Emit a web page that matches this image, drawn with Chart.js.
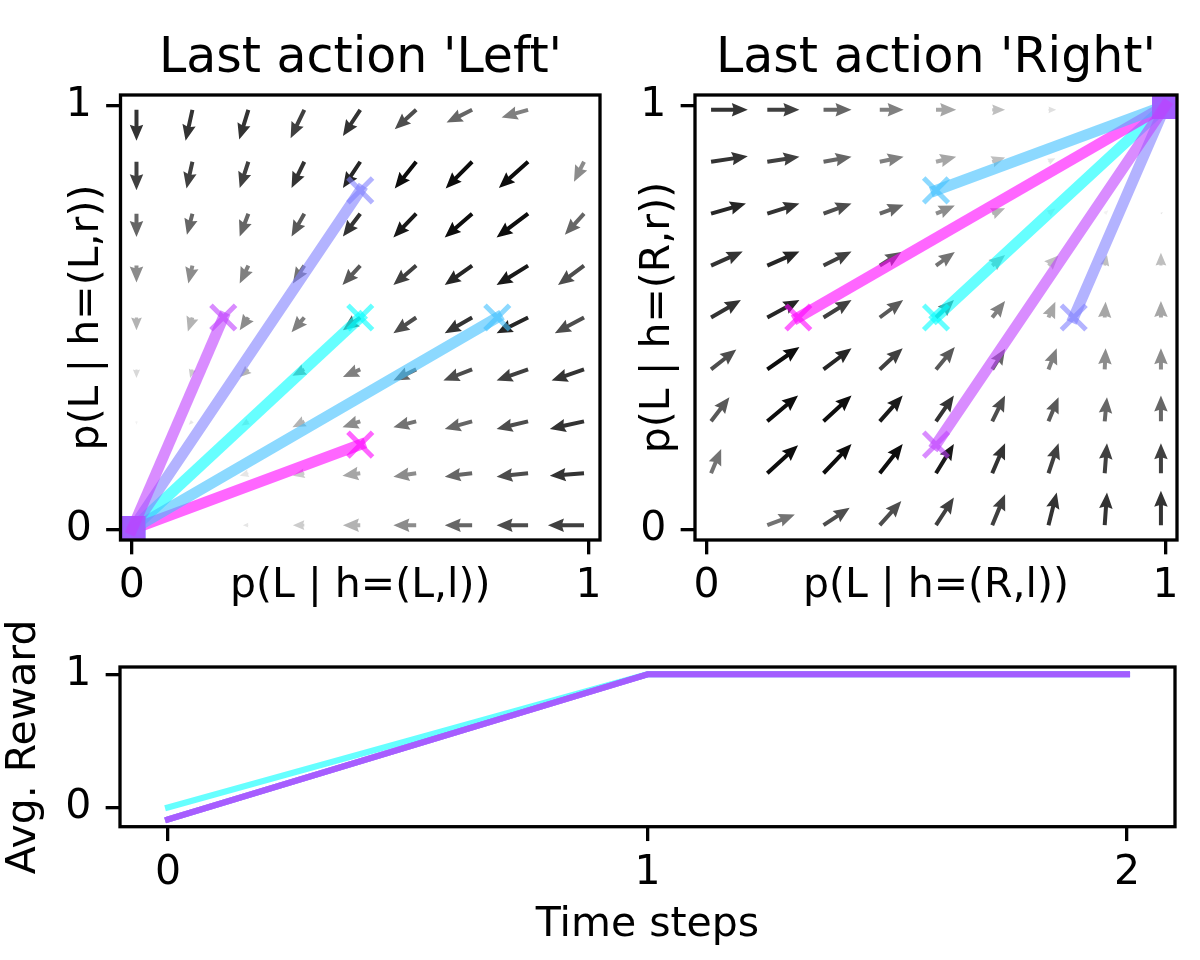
<!DOCTYPE html>
<html>
<head>
<meta charset="utf-8">
<script src="https://cdn.jsdelivr.net/npm/chart.js@4.4.1/dist/chart.umd.min.js"></script>
<style>
  html, body { margin: 0; padding: 0; background: #fff; overflow: hidden; }
  #wrap { position: relative; width: 1200px; height: 960px; overflow: hidden; }
  canvas { position: absolute; }
</style>
</head>
<body>
<div id="wrap">
  <canvas id="chartLeft" width="721" height="640" style="left:0;top:0"></canvas>
  <canvas id="chartRight" width="632" height="640" style="left:620px;top:0"></canvas>
  <canvas id="chartReward" width="1200" height="360" style="left:0;top:600px"></canvas>
</div>
<script>
// grid positions of the vector field (x and y), both panels
var gridPos = [0.01, 0.1325, 0.255, 0.3775, 0.5, 0.6225, 0.745, 0.8675, 0.99];

// 'Left' panel field, rows from top (y=0.99) down to y=0.01
var leftU = [
    [0, -0.015, -0.02, -0.03, -0.038, -0.047, -0.056, -0.058, 0],
    [0, -0.013, -0.019, -0.028, -0.038, -0.047, -0.058, -0.064, -0.022],
    [0, -0.012, -0.019, -0.028, -0.038, -0.05, -0.06, -0.069, -0.042],
    [0, -0.009, -0.019, -0.025, -0.039, -0.05, -0.06, -0.069, -0.057],
    [0, -0.01, -0.019, -0.028, -0.038, -0.05, -0.06, -0.069, -0.064],
    [0, -0.005, -0.019, -0.026, -0.038, -0.05, -0.063, -0.069, -0.071],
    [0, -0.008, -0.015, -0.026, -0.039, -0.05, -0.06, -0.069, -0.075],
    [0, 0, -0.019, -0.025, -0.039, -0.05, -0.06, -0.069, -0.075],
    [0, 0, -0.012, -0.025, -0.038, -0.05, -0.06, -0.069, -0.079]
];
var leftV = [
    [-0.073, -0.073, -0.07, -0.067, -0.062, -0.046, -0.03, -0.018, 0],
    [-0.067, -0.063, -0.062, -0.062, -0.062, -0.063, -0.063, -0.062, -0.047],
    [-0.055, -0.05, -0.054, -0.054, -0.054, -0.056, -0.056, -0.056, -0.05],
    [-0.04, -0.042, -0.042, -0.042, -0.046, -0.046, -0.046, -0.046, -0.046],
    [-0.03, -0.033, -0.03, -0.035, -0.03, -0.037, -0.037, -0.037, -0.037],
    [-0.02, -0.02, -0.018, -0.015, -0.018, -0.026, -0.026, -0.026, -0.026],
    [-0.008, -0.008, -0.01, -0.014, -0.014, -0.014, -0.018, -0.018, -0.018],
    [0, 0, -0.006, -0.006, -0.006, -0.008, -0.008, -0.008, -0.006],
    [0, 0, 0, 0, 0, 0, 0, 0, 0]
];
var leftShade = [
    [0.8, 0.8, 0.8, 0.75, 0.8, 0.7, 0.6, 0.5, 0],
    [0.75, 0.75, 0.75, 0.8, 0.85, 0.95, 0.95, 0.95, 0.45],
    [0.6, 0.6, 0.6, 0.65, 0.8, 0.9, 0.95, 0.95, 0.6],
    [0.45, 0.45, 0.5, 0.55, 0.65, 0.75, 0.85, 0.9, 0.7],
    [0.3, 0.3, 0.45, 0.5, 0.65, 0.7, 0.8, 0.85, 0.7],
    [0.15, 0.2, 0.3, 0.45, 0.5, 0.6, 0.7, 0.75, 0.8],
    [0.05, 0.1, 0.15, 0.3, 0.45, 0.55, 0.6, 0.7, 0.8],
    [0, 0, 0.1, 0.2, 0.35, 0.45, 0.6, 0.7, 0.8],
    [0, 0, 0.1, 0.2, 0.3, 0.45, 0.6, 0.7, 0.75]
];

// 'Right' panel field
var rightU = [
    [0.08, 0.07, 0.061, 0.052, 0.044, 0.028, 0.017, 0, 0],
    [0.08, 0.07, 0.061, 0.052, 0.044, 0.028, 0.015, 0, 0],
    [0.076, 0.07, 0.061, 0.052, 0.041, 0.028, 0.015, 0.008, 0.004],
    [0.069, 0.07, 0.061, 0.047, 0.041, 0.028, 0.022, 0.005, 0],
    [0.065, 0.07, 0.061, 0.051, 0.039, 0.028, 0.015, 0.002, 0],
    [0.055, 0.07, 0.061, 0.05, 0.041, 0.028, 0.018, 0.002, 0],
    [0.04, 0.067, 0.061, 0.05, 0.039, 0.028, 0.022, 0.005, 0],
    [0.022, 0.067, 0.061, 0.05, 0.039, 0.028, 0.022, 0.005, 0],
    [0, 0.06, 0.057, 0.047, 0.039, 0.028, 0.018, 0.005, 0]
];
var rightV = [
    [0, 0, 0, 0, 0, 0, 0, 0, 0],
    [0.013, 0.012, 0.012, 0.012, 0.012, 0.01, 0.008, 0, 0],
    [0.024, 0.024, 0.024, 0.021, 0.019, 0.013, 0.012, 0.008, 0.004],
    [0.033, 0.033, 0.033, 0.032, 0.032, 0.025, 0.024, 0.025, 0.03],
    [0.041, 0.041, 0.041, 0.041, 0.041, 0.039, 0.037, 0.037, 0.039],
    [0.047, 0.053, 0.05, 0.05, 0.053, 0.049, 0.05, 0.05, 0.05],
    [0.057, 0.061, 0.061, 0.061, 0.061, 0.061, 0.057, 0.057, 0.061],
    [0.057, 0.066, 0.069, 0.069, 0.069, 0.071, 0.071, 0.071, 0.071],
    [0, 0.025, 0.041, 0.057, 0.065, 0.073, 0.077, 0.077, 0.081]
];
var rightShade = [
    [0.8, 0.75, 0.6, 0.5, 0.35, 0.25, 0.12, 0, 0],
    [0.8, 0.75, 0.6, 0.5, 0.35, 0.25, 0.1, 0, 0],
    [0.85, 0.8, 0.7, 0.6, 0.45, 0.3, 0.1, 0.05, 0.1],
    [0.8, 0.85, 0.75, 0.65, 0.55, 0.35, 0.25, 0.25, 0.25],
    [0.8, 0.85, 0.75, 0.65, 0.6, 0.5, 0.35, 0.35, 0.35],
    [0.7, 0.95, 0.85, 0.75, 0.65, 0.6, 0.5, 0.45, 0.45],
    [0.65, 0.95, 0.95, 0.9, 0.8, 0.7, 0.65, 0.6, 0.6],
    [0.55, 0.95, 0.95, 0.95, 0.9, 0.8, 0.75, 0.75, 0.75],
    [0, 0.55, 0.7, 0.7, 0.75, 0.75, 0.8, 0.8, 0.8]
];

// trajectories (cyan, light blue, lavender, purple, magenta)
var trajColors = ['#00ffff', '#40bfff', '#8080ff', '#bf40ff', '#ff00ff'];
var trajDrawOrder = [5, 3, 2, 1, 4];
var leftStartX = [0.5, 0.8, 0.5, 0.2, 0.5];
var leftStartY = [0.5, 0.5, 0.8, 0.5, 0.2];
var leftEnd = [0, 0];
var rightStartX = [0.5, 0.5, 0.8, 0.5, 0.2];
var rightStartY = [0.5, 0.8, 0.5, 0.2, 0.5];
var rightEnd = [1, 1];

// average reward per time step, one row per trajectory
var timeSteps = [0, 1, 2];
var avgReward = [
    [0, 1, 1],
    [-0.09, 1, 1],
    [-0.09, 1, 1],
    [-0.09, 1, 1],
    [-0.09, 1, 1]
];

var fieldTicks = [0, 1];
var timeTicks = [0, 1, 2];
var rewardTicks = [0, 1];

Chart.defaults.font.family = "'DejaVu Sans', sans-serif";
Chart.defaults.color = '#000';

var rgba = function (hex, a) {
    var n = parseInt(hex.slice(1), 16);
    return 'rgba(' + (n >> 16) + ',' + ((n >> 8) & 255) + ',' + (n & 255) + ',' + a + ')';
};

var shadeColor = function (s) {
    var g = Math.round(255 * (1 - s));
    return 'rgb(' + g + ',' + g + ',' + g + ')';
};

// matplotlib-like quiver arrow, tail at (x0,y0), tip at (x1,y1)
var drawArrow = function (ctx, x0, y0, x1, y1, color) {
    var dx = x1 - x0, dy = y1 - y0;
    var len = Math.sqrt(dx * dx + dy * dy);
    if (len < 1) return;
    var w = 4, hw = 13.5, hl = 16, hal = 14.5;
    var pts;
    if (len >= hl) {
        pts = [[0, -w / 2], [len - hal, -w / 2], [len - hl, -hw / 2], [len, 0],
               [len - hl, hw / 2], [len - hal, w / 2], [0, w / 2]];
    } else {
        var k = len / hl;
        pts = [[0, -w / 2], [hl - hal, -w / 2], [0, -hw / 2], [hl, 0],
               [0, hw / 2], [hl - hal, w / 2], [0, w / 2]].map(function (p) { return [p[0] * k, p[1] * k]; });
    }
    ctx.save();
    ctx.translate(x0, y0);
    ctx.rotate(Math.atan2(dy, dx));
    ctx.fillStyle = color;
    ctx.beginPath();
    ctx.moveTo(pts[0][0], pts[0][1]);
    for (var i = 1; i < pts.length; i++) ctx.lineTo(pts[i][0], pts[i][1]);
    ctx.closePath();
    ctx.fill();
    ctx.restore();
};

class QuiverController extends Chart.ScatterController {
    draw() {
        var meta = this._cachedMeta;
        var xs = meta.xScale, ys = meta.yScale;
        var ctx = this.chart.ctx;
        this.getDataset().data.forEach(function (d) {
            if (!d.s) return;
            drawArrow(ctx, xs.getPixelForValue(d.x), ys.getPixelForValue(d.y),
                xs.getPixelForValue(d.x + d.u), ys.getPixelForValue(d.y + d.v), shadeColor(d.s));
        });
    }
}
QuiverController.id = 'quiver';
QuiverController.defaults = Object.assign({}, Chart.ScatterController.defaults);
Chart.register(QuiverController);

var framePlugin = {
    id: 'frame',
    afterDraw: function (chart) {
        var a = chart.chartArea, c = chart.ctx;
        c.save();
        c.strokeStyle = '#000';
        c.lineWidth = 3.3;
        c.strokeRect(a.left, a.top, a.right - a.left, a.bottom - a.top);
        c.restore();
    }
};

var fieldData = function (U, V, S) {
    var pts = [];
    for (var r = 0; r < 9; r++) {
        for (var c = 0; c < 9; c++) {
            pts.push({x: gridPos[c], y: gridPos[8 - r], u: U[r][c], v: V[r][c], s: S[r][c]});
        }
    }
    return pts;
};

var axisOpts = function (pos, label, titlePad, fit, min, max, tickVals, tickPad) {
    return {
        type: 'linear', position: pos, min: min, max: max,
        afterBuildTicks: function (axis) {
            axis.ticks = tickVals.map(function (v) { return {value: v}; });
        },
        afterFit: fit,
        grid: {drawOnChartArea: false, color: '#000', lineWidth: 3.3, tickLength: 14.35},
        border: {display: false},
        ticks: {color: '#000', font: {size: 41}, padding: tickPad, maxRotation: 0, autoSkip: false},
        title: {display: true, text: label, color: '#000', font: {size: 41}, padding: titlePad}
    };
};

var fieldChart = function (id, title, xLabel, yLabel, field, startX, startY, end, axisW, padW, yTitlePad) {
    var datasets = [{type: 'quiver', data: field, order: 100, pointRadius: 0, clip: 0}];
    for (var i = 0; i < trajColors.length; i++) {
        var col = rgba(trajColors[i], 0.6);
        datasets.push({
            type: 'scatter', showLine: true, order: trajDrawOrder[i], clip: 0,
            data: [{x: startX[i], y: startY[i]}, {x: end[0], y: end[1]}],
            borderColor: col, borderWidth: 11, borderCapStyle: 'square',
            pointStyle: ['crossRot', 'rect'], pointRadius: [17.4, 19],
            pointBorderWidth: [5, 0], pointBorderColor: col, pointBackgroundColor: col
        });
    }
    return new Chart(document.getElementById(id), {
        type: 'scatter',
        data: {datasets: datasets},
        options: {
            responsive: false, animation: false, events: [],
            layout: {padding: 0},
            plugins: {
                legend: {display: false}, tooltip: {enabled: false},
                title: {display: true, text: title, color: '#000',
                    font: {size: 49, weight: 'normal'}, padding: {top: 29.6, bottom: 6.6}}
            },
            scales: {
                x: axisOpts('bottom', xLabel, {top: 0, bottom: 29.4},
                    function (s) { s.height = 100; }, -0.025, 1.025, fieldTicks, 7),
                y: axisOpts('left', yLabel, {top: yTitlePad, bottom: 0},
                    function (s) { s.width = axisW; }, -0.025, 1.025, fieldTicks, 14.35),
                pad: {axis: 'y', position: 'right', display: true, grid: {display: false},
                    border: {display: false}, ticks: {display: false},
                    afterFit: function (s) { s.width = padW; }}
            }
        },
        plugins: [framePlugin]
    });
};

fieldChart('chartLeft', "Last action 'Left'", 'p(L | h=(L,l))', 'p(L | h=(L,r))',
    fieldData(leftU, leftV, leftShade), leftStartX, leftStartY, leftEnd, 120.5, 121, 62.9);
fieldChart('chartRight', "Last action 'Right'", 'p(L | h=(R,l))', 'p(L | h=(R,r))',
    fieldData(rightU, rightV, rightShade), rightStartX, rightStartY, rightEnd, 75, 75, 14.2);

new Chart(document.getElementById('chartReward'), {
    type: 'scatter',
    data: {
        datasets: avgReward.map(function (vals, i) {
            return {
                showLine: true, order: trajDrawOrder[i], clip: 0,
                data: timeSteps.map(function (t, k) { return {x: t, y: vals[k]}; }),
                borderColor: rgba(trajColors[i], 0.6), borderWidth: 6,
                borderCapStyle: 'square', borderJoinStyle: 'round', pointRadius: 0
            };
        })
    },
    options: {
        responsive: false, animation: false, events: [],
        layout: {padding: {top: 67, right: 25, left: 0, bottom: 0}},
        plugins: {legend: {display: false}, tooltip: {enabled: false}},
        scales: {
            x: axisOpts('bottom', 'Time steps', {top: 0, bottom: 9.6},
                function (s) { s.height = 133.3; }, -0.1, 2.1, timeTicks, 7.35),
            y: axisOpts('left', 'Avg. Reward', {top: 0, bottom: 0},
                function (s) { s.width = 120; }, -0.1445, 1.0545, rewardTicks, 14.35)
        }
    },
    plugins: [framePlugin]
});
</script>
</body>
</html>
